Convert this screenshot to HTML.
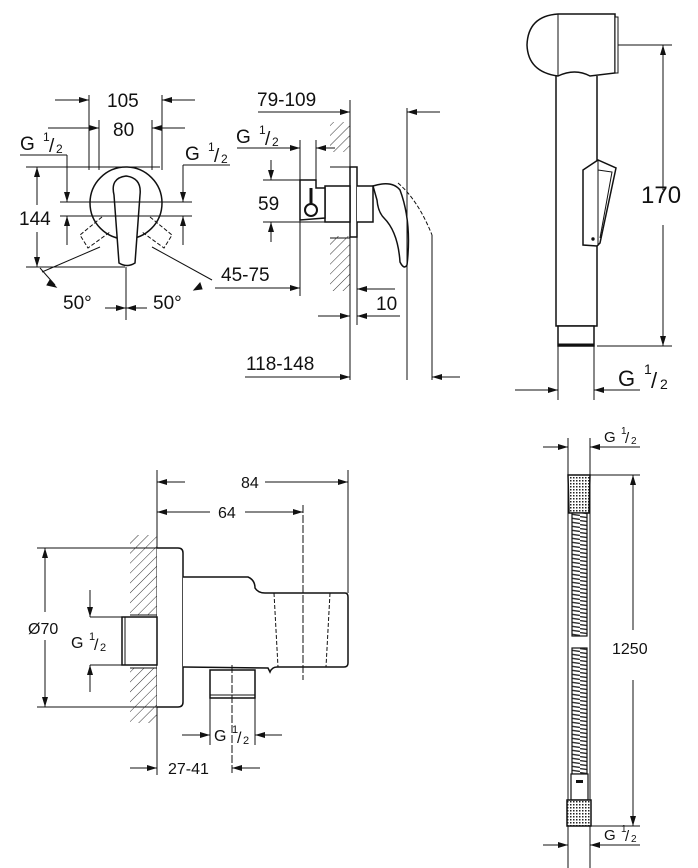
<!DOCTYPE html>
<html><head><meta charset="utf-8"><style>
html,body{margin:0;padding:0;background:#fff}
svg{display:block}
text{font-family:"Liberation Sans",Arial,sans-serif;fill:#111}
</style></head><body>
<svg width="698" height="868" viewBox="0 0 698 868" xmlns="http://www.w3.org/2000/svg">
<defs>
<marker id="a" viewBox="0 0 10 6" refX="10" refY="3" markerWidth="10" markerHeight="6" orient="auto-start-reverse" markerUnits="userSpaceOnUse"><path d="M0,0L10,3L0,6z" fill="#111"/></marker>
<pattern id="h" width="7" height="7" patternUnits="userSpaceOnUse" patternTransform="rotate(45)"><line x1="0" y1="0" x2="0" y2="7" stroke="#333" stroke-width="1"/></pattern>
<pattern id="k" width="3" height="3" patternUnits="userSpaceOnUse"><rect width="3" height="3" fill="#fff"/><rect width="1.5" height="1.5" fill="#222"/></pattern>
<pattern id="sp" width="20" height="4" patternUnits="userSpaceOnUse"><rect width="20" height="4" fill="#fff"/><line x1="0" y1="0.5" x2="20" y2="3.5" stroke="#333" stroke-width="1.4"/></pattern>
</defs>
<g stroke="#111" stroke-width="1" fill="none">
<!-- ===== Top-left front view ===== -->
<circle cx="126" cy="203" r="36" stroke-width="1.5"/>
<path d="M114,195 Q110,178 126,176 Q142,178 140,195 L135,263 Q127,268 119,263 Z" fill="#fff" stroke-width="1.5"/>
<path d="M102,217 L80,235 L88,248 L110,232" stroke-dasharray="4,2"/>
<path d="M150,217 L172,235 L164,248 L142,232" stroke-dasharray="4,2"/>
<!-- 105 -->
<line x1="89" y1="95" x2="89" y2="170"/><line x1="162" y1="95" x2="162" y2="170"/>
<line x1="55" y1="100" x2="89" y2="100" marker-end="url(#a)"/><line x1="195" y1="100" x2="162" y2="100" marker-end="url(#a)"/>
<!-- 80 -->
<line x1="99" y1="120" x2="99" y2="170"/><line x1="152" y1="120" x2="152" y2="170"/>
<line x1="48" y1="128" x2="99" y2="128" marker-end="url(#a)"/><line x1="185" y1="128" x2="152" y2="128" marker-end="url(#a)"/>
<!-- 144 -->
<line x1="26" y1="167" x2="160" y2="167"/><line x1="26" y1="267" x2="125" y2="267"/>
<line x1="37" y1="205" x2="37" y2="167" marker-end="url(#a)"/><line x1="37" y1="232" x2="37" y2="267" marker-end="url(#a)"/>
<!-- G1/2 both sides -->
<line x1="20" y1="155" x2="67" y2="155"/><line x1="67" y1="155" x2="67" y2="202" marker-end="url(#a)"/><line x1="67" y1="245" x2="67" y2="216" marker-end="url(#a)"/>
<line x1="230" y1="165" x2="183" y2="165"/><line x1="183" y1="165" x2="183" y2="202" marker-end="url(#a)"/><line x1="183" y1="245" x2="183" y2="216" marker-end="url(#a)"/>
<line x1="60" y1="202" x2="192" y2="202"/><line x1="60" y1="216" x2="192" y2="216"/>
<!-- 50 deg -->
<line x1="100" y1="247" x2="42" y2="272"/><line x1="152" y1="247" x2="212" y2="280"/>
<line x1="126" y1="267" x2="126" y2="320"/>
<line x1="40" y1="268" x2="55" y2="285" /><path d="M50,280 L56,287 L47,285z" fill="#111"/>
<path d="M200,283 L194,290 L202,289z" fill="#111"/>
<line x1="105" y1="308" x2="126" y2="308" marker-end="url(#a)"/><line x1="147" y1="308" x2="126" y2="308" marker-end="url(#a)"/>

<!-- ===== Top-middle side view ===== -->
<rect x="330" y="122" width="20" height="30" fill="url(#h)" stroke="none"/>
<rect x="330" y="236" width="20" height="55" fill="url(#h)" stroke="none"/>
<line x1="350" y1="100" x2="350" y2="380"/>
<line x1="330" y1="167" x2="350" y2="167"/><line x1="330" y1="238" x2="350" y2="238"/>
<rect x="350" y="167" width="7" height="70" fill="#fff" stroke-width="1.5"/>
<rect x="325" y="186" width="25" height="36" fill="#fff" stroke-width="1.5"/>
<path d="M300,220 L300,180 L316,180 L316,188 L325,188 L325,218 Z" fill="#fff" stroke-width="1.5"/>
<circle cx="311" cy="210" r="6" stroke-width="2"/><line x1="311" y1="188" x2="311" y2="204" stroke-width="3"/>
<path d="M357,186 L373,186 L373,222 L357,222" fill="#fff" stroke-width="1.5"/>
<path d="M373,186 Q392,180 400,190 Q412,222 407,265 Q404,270 400,262 Q398,232 384,218 Q378,212 377,200 Z" fill="#fff" stroke-width="1.5"/>
<path d="M398,183 Q418,200 432,235" stroke-dasharray="4,2"/>
<line x1="407" y1="108" x2="407" y2="380"/>
<line x1="432" y1="235" x2="432" y2="380"/>
<line x1="258" y1="112" x2="350" y2="112" marker-end="url(#a)"/>
<line x1="440" y1="112" x2="407" y2="112" marker-end="url(#a)"/>
<line x1="237" y1="148" x2="300" y2="148" marker-end="url(#a)"/>
<line x1="300" y1="140" x2="300" y2="296"/><line x1="316" y1="140" x2="316" y2="180"/>
<line x1="335" y1="148" x2="316" y2="148" marker-end="url(#a)"/>
<line x1="263" y1="180" x2="300" y2="180"/><line x1="263" y1="222" x2="325" y2="222"/>
<line x1="271" y1="160" x2="271" y2="180" marker-end="url(#a)"/><line x1="271" y1="242" x2="271" y2="222" marker-end="url(#a)"/>
<line x1="215" y1="288" x2="300" y2="288" marker-end="url(#a)"/>
<line x1="357" y1="237" x2="357" y2="325"/>
<line x1="395" y1="289" x2="357" y2="289" marker-end="url(#a)"/>
<line x1="318" y1="316" x2="350" y2="316" marker-end="url(#a)"/><line x1="400" y1="316" x2="357" y2="316" marker-end="url(#a)"/>
<line x1="245" y1="377" x2="350" y2="377" marker-end="url(#a)"/>
<line x1="460" y1="377" x2="432" y2="377" marker-end="url(#a)"/>

<!-- ===== Top-right shower head ===== -->
<path d="M558,14 Q528,16 527,45 Q528,72 558,76 Q575,68 590,76 L615,73 L615,14 Z" fill="#fff" stroke-width="1.5"/>
<line x1="558" y1="14" x2="558" y2="76"/>
<rect x="615" y="17" width="3" height="56" fill="#fff"/>
<path d="M556,76 L556,326 L597,326 L597,76" stroke-width="1.5"/>
<rect x="558" y="326" width="36" height="20" fill="#fff" stroke-width="1.5"/>
<line x1="558" y1="345" x2="594" y2="345" stroke-width="3"/>
<path d="M583,170 L598,160 L616,168 L600,243 L597,246 L583,245 Z" fill="#fff" stroke-width="1.5"/>
<path d="M598,160 L598,246 M598,170 L612,172 L600,238"/>
<circle cx="593" cy="239" r="1.2" fill="#111"/>
<line x1="618" y1="45" x2="672" y2="45"/><line x1="597" y1="346" x2="672" y2="346"/>
<line x1="663" y1="190" x2="663" y2="45" marker-end="url(#a)"/><line x1="663" y1="225" x2="663" y2="346" marker-end="url(#a)"/>
<line x1="558" y1="346" x2="558" y2="400"/><line x1="594" y1="346" x2="594" y2="400"/>
<line x1="515" y1="390" x2="558" y2="390" marker-end="url(#a)"/><line x1="640" y1="390" x2="594" y2="390" marker-end="url(#a)"/>

<!-- ===== Hose ===== -->
<line x1="568" y1="438" x2="568" y2="868"/><line x1="590" y1="438" x2="590" y2="868"/>
<line x1="543" y1="447" x2="568" y2="447" marker-end="url(#a)"/><line x1="640" y1="447" x2="590" y2="447" marker-end="url(#a)"/>
<path d="M568,475 L590,475 L589,513 L569,513 Z" fill="url(#k)" stroke-width="1.5"/>
<rect x="572" y="513" width="15" height="123" fill="url(#sp)" stroke-width="1.2"/>
<rect x="572" y="648" width="15" height="126" fill="url(#sp)" stroke-width="1.2"/>
<rect x="571" y="774" width="17" height="26" fill="#fff" stroke-width="1.2"/>
<rect x="576" y="780" width="7" height="3" fill="#111" stroke="none"/>
<rect x="567" y="800" width="24" height="26" fill="url(#k)" stroke-width="1.5"/>
<line x1="590" y1="475" x2="640" y2="475"/><line x1="591" y1="826" x2="640" y2="826"/>
<line x1="633" y1="630" x2="633" y2="475" marker-end="url(#a)"/><line x1="633" y1="680" x2="633" y2="826" marker-end="url(#a)"/>
<line x1="543" y1="845" x2="568" y2="845" marker-end="url(#a)"/><line x1="640" y1="845" x2="590" y2="845" marker-end="url(#a)"/>

<!-- ===== Bottom-left wall outlet ===== -->
<rect x="130" y="535" width="27" height="80" fill="url(#h)" stroke="none"/>
<rect x="130" y="668" width="27" height="55" fill="url(#h)" stroke="none"/>
<line x1="157" y1="470" x2="157" y2="775"/>
<path d="M157,548 L178,548 Q183,548 183,553 L183,702 Q183,707 178,707 L157,707" fill="#fff" stroke-width="1.5"/>
<path d="M183,577 L248,577 Q255,580 255,588 Q258,593 265,593 L345,593 Q348,593 348,597 L348,663 Q348,667 344,667 L277,667 Q272,667 270,672 L268,668 L183,667" fill="#fff" stroke-width="1.5"/>
<path d="M274,593 L278,667 M330,593 L326,667" stroke-dasharray="4,2"/>
<line x1="303" y1="505" x2="303" y2="680" stroke-dasharray="8,2"/>
<line x1="348" y1="470" x2="348" y2="593"/>
<rect x="122" y="617" width="35" height="48" fill="#fff" stroke-width="1.5"/>
<line x1="125" y1="617" x2="125" y2="665"/>
<line x1="130" y1="615" x2="157" y2="615"/><line x1="130" y1="668" x2="157" y2="668"/>
<rect x="210" y="670" width="45" height="28" fill="#fff" stroke-width="1.5"/>
<line x1="210" y1="695" x2="255" y2="695"/>
<line x1="232" y1="665" x2="232" y2="775" stroke-dasharray="8,2"/>
<line x1="210" y1="698" x2="210" y2="745"/><line x1="255" y1="698" x2="255" y2="745"/>
<line x1="185" y1="482" x2="157" y2="482" marker-end="url(#a)"/><line x1="265" y1="482" x2="348" y2="482" marker-end="url(#a)"/>
<line x1="210" y1="512" x2="157" y2="512" marker-end="url(#a)"/><line x1="245" y1="512" x2="303" y2="512" marker-end="url(#a)"/>
<line x1="37" y1="548" x2="157" y2="548"/><line x1="37" y1="707" x2="157" y2="707"/>
<line x1="45" y1="612" x2="45" y2="548" marker-end="url(#a)"/><line x1="45" y1="640" x2="45" y2="707" marker-end="url(#a)"/>
<line x1="90" y1="617" x2="122" y2="617"/><line x1="90" y1="665" x2="122" y2="665"/>
<line x1="90" y1="590" x2="90" y2="617" marker-end="url(#a)"/><line x1="90" y1="692" x2="90" y2="665" marker-end="url(#a)"/>
<line x1="182" y1="735" x2="210" y2="735" marker-end="url(#a)"/><line x1="282" y1="735" x2="255" y2="735" marker-end="url(#a)"/>
<line x1="130" y1="768" x2="157" y2="768" marker-end="url(#a)"/><line x1="260" y1="768" x2="232" y2="768" marker-end="url(#a)"/>
</g>
<!-- ===== Labels ===== -->
<g font-size="19">
<text x="107" y="107">105</text>
<text x="113" y="136">80</text>
<text x="20" y="150">G</text><text x="43" y="141" font-size="12">1</text><text x="49" y="152">/</text><text x="56" y="153" font-size="12">2</text>
<text x="185" y="160">G</text><text x="208" y="151" font-size="12">1</text><text x="214" y="162">/</text><text x="221" y="163" font-size="12">2</text>
<text x="19" y="225">144</text>
<text x="63" y="309">50°</text>
<text x="153" y="309">50°</text>
<text x="257" y="106">79-109</text>
<text x="236" y="143">G</text><text x="259" y="134" font-size="12">1</text><text x="265" y="145">/</text><text x="272" y="146" font-size="12">2</text>
<text x="258" y="210">59</text>
<text x="221" y="281">45-75</text>
<text x="376" y="310">10</text>
<text x="246" y="370">118-148</text>
<text x="641" y="203" font-size="24">170</text>
<text x="618" y="386" font-size="22">G</text><text x="644" y="374" font-size="14">1</text><text x="651" y="388" font-size="22">/</text><text x="660" y="389" font-size="14">2</text>
<text x="604" y="442" font-size="15">G</text><text x="621" y="434" font-size="10">1</text><text x="625" y="443" font-size="15">/</text><text x="631" y="444" font-size="10">2</text>
<text x="612" y="654" font-size="16">1250</text>
<text x="604" y="840" font-size="15">G</text><text x="621" y="832" font-size="10">1</text><text x="625" y="841" font-size="15">/</text><text x="631" y="842" font-size="10">2</text>
</g>
<g font-size="16">
<text x="241" y="488">84</text>
<text x="218" y="518">64</text>
<text x="28" y="634">Ø70</text>
<text x="71" y="648">G</text><text x="89" y="640" font-size="11">1</text><text x="94" y="650">/</text><text x="100" y="651" font-size="11">2</text>
<text x="214" y="741">G</text><text x="232" y="733" font-size="11">1</text><text x="237" y="743">/</text><text x="243" y="744" font-size="11">2</text>
<text x="168" y="774">27-41</text>
</g>
</svg>
</body></html>
